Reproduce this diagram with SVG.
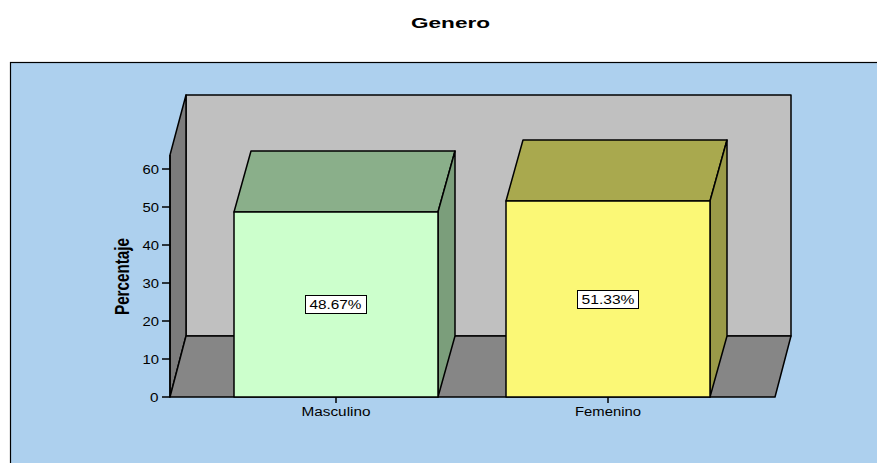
<svg xmlns="http://www.w3.org/2000/svg" width="877" height="463" viewBox="0 0 877 463">
<style>
.e{stroke:#000;stroke-width:1.5;stroke-linejoin:round}
.t{font-family:"Liberation Sans",Arial,sans-serif;font-size:12px;fill:#000}
.ax{stroke:#000;stroke-width:1.5}
</style>
<rect width="877" height="463" fill="#fff"/>
<text x="450.5" y="27.5" text-anchor="middle" font-family="Liberation Sans,Arial,sans-serif" font-weight="bold" font-size="14" textLength="79" lengthAdjust="spacingAndGlyphs">Genero</text>
<rect x="10.5" y="62.5" width="880" height="420" fill="#ADD0EE" stroke="#000" stroke-width="1.2"/>
<g id="walls">
<polygon class="e" points="186,95 791,95 791,336 186,336" fill="#C0C0C0"/>
<polygon class="e" points="186,95 186,336 170,397 170,155" fill="#7C7C7C"/>
<polygon class="e" points="186,336 791,336 775,397 170,397" fill="#868686"/>
</g>
<g id="axis">
<line class="ax" x1="170" y1="155" x2="170" y2="397"/>
<g class="ax">
<line x1="162" y1="397" x2="170" y2="397"/>
<line x1="162" y1="359" x2="170" y2="359"/>
<line x1="162" y1="321" x2="170" y2="321"/>
<line x1="162" y1="283" x2="170" y2="283"/>
<line x1="162" y1="245" x2="170" y2="245"/>
<line x1="162" y1="207" x2="170" y2="207"/>
<line x1="162" y1="169" x2="170" y2="169"/>
<line x1="336" y1="397" x2="336" y2="403"/>
<line x1="608" y1="397" x2="608" y2="403"/>
</g>
<g class="t">
<text x="150" y="401.5" textLength="8.5" lengthAdjust="spacingAndGlyphs">0</text>
<text x="142.5" y="363.5" textLength="16.5" lengthAdjust="spacingAndGlyphs">10</text>
<text x="142.5" y="325.5" textLength="16.5" lengthAdjust="spacingAndGlyphs">20</text>
<text x="142.5" y="287.5" textLength="16.5" lengthAdjust="spacingAndGlyphs">30</text>
<text x="142.5" y="249.5" textLength="16.5" lengthAdjust="spacingAndGlyphs">40</text>
<text x="142.5" y="211.5" textLength="16.5" lengthAdjust="spacingAndGlyphs">50</text>
<text x="142.5" y="173.5" textLength="16.5" lengthAdjust="spacingAndGlyphs">60</text>
</g>
<text transform="translate(129,276.5) rotate(-90)" text-anchor="middle" font-family="Liberation Sans,Arial,sans-serif" font-weight="bold" font-size="20" textLength="77" lengthAdjust="spacingAndGlyphs">Percentaje</text>
<text class="t" x="301.5" y="416" textLength="69" lengthAdjust="spacingAndGlyphs">Masculino</text>
<text class="t" x="575" y="416" textLength="66" lengthAdjust="spacingAndGlyphs">Femenino</text>
</g>
<g id="bar-masculino">
<polygon class="e" points="234,212 251,151 455,151 438,212" fill="#8AAF8A"/>
<polygon class="e" points="438,212 455,151 455,336 438,397" fill="#7B9E7B"/>
<rect class="e" x="234" y="212" width="204" height="185" fill="#CCFFCC"/>
<rect x="305.5" y="295.5" width="61" height="18" fill="#fff" stroke="#000" stroke-width="1"/>
<text class="t" x="309.5" y="309" textLength="52" lengthAdjust="spacingAndGlyphs">48.67%</text>
</g>
<g id="bar-femenino">
<polygon class="e" points="506,201 523,140 727,140 710,201" fill="#A9A94E"/>
<polygon class="e" points="710,201 727,140 727,336 710,397" fill="#9A9A48"/>
<rect class="e" x="506" y="201" width="204" height="196" fill="#FBF876"/>
<rect x="577.5" y="290.5" width="61" height="18" fill="#fff" stroke="#000" stroke-width="1"/>
<text class="t" x="581.5" y="304" textLength="53" lengthAdjust="spacingAndGlyphs">51.33%</text>
</g>
</svg>
